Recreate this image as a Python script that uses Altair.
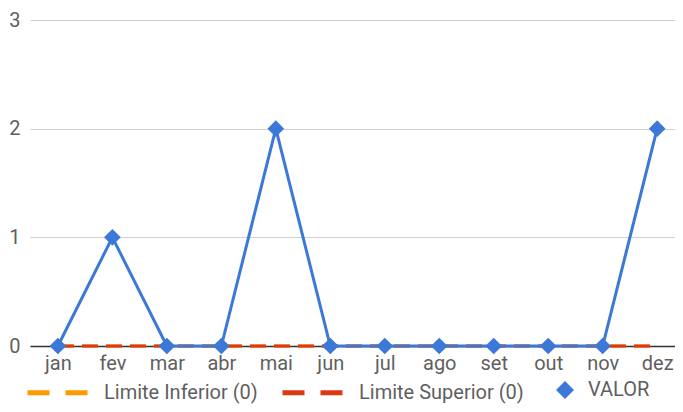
import altair as alt
import pandas as pd

meses = ["jan", "fev", "mar", "abr", "mai", "jun", "jul", "ago", "set", "out", "nov", "dez"]
valor = [0, 1, 0, 0, 2, 0, 0, 0, 0, 0, 0, 2]
limite_inferior = [0, 0, 0, 0, 0, 0, 0, 0, 0, 0, 0, 0]
limite_superior = [0, 0, 0, 0, 0, 0, 0, 0, 0, 0, 0, 0]
series_limites = ["Limite Inferior (0)", "Limite Superior (0)"]
serie_valor = "VALOR"

AZUL = "#3c78d8"
LARANJA = "#ff9900"
VERMELHO = "#dc3912"
CINZA = "#5f5f5f"

lim_rows = []
for s, vals in zip(series_limites, [limite_inferior, limite_superior]):
    for m, v in zip(meses, vals):
        lim_rows.append({"mes": m, "valor": v, "serie": s})
df_lim = pd.DataFrame(lim_rows)
df_val = pd.DataFrame({"mes": meses, "valor": valor, "legenda": [serie_valor] * len(meses)})

x = alt.X("mes:N", sort=meses,
          scale=alt.Scale(type="point", domain=meses, padding=0.42, align=0.61),
          axis=alt.Axis(title=None, labelAngle=0, ticks=False, grid=False,
                        domainColor="#333333", domainWidth=1.5, labelPadding=7,
                        labelFontSize=20, labelColor=CINZA, labelFont="Roboto"))
y = alt.Y("valor:Q", scale=alt.Scale(domain=[0, 3], nice=False, zero=True),
          axis=alt.Axis(title=None, values=[0, 1, 2, 3], ticks=False, domain=False,
                        gridColor="#d0d0d0", labelPadding=10, labelFontSize=20,
                        labelColor=CINZA, labelFont="Roboto", format="d"))

limites = alt.Chart(df_lim).mark_line(strokeWidth=3, strokeDash=[16, 8]).encode(
    x=x, y=y,
    color=alt.Color("serie:N", sort=series_limites,
                    scale=alt.Scale(domain=series_limites, range=[LARANJA, VERMELHO]),
                    legend=alt.Legend(title=None, orient="none", direction="horizontal",
                                      legendX=-5, legendY=340, symbolType="stroke",
                                      symbolSize=3600, symbolStrokeWidth=5,
                                      symbolDash=[22, 16], labelFontSize=20,
                                      labelColor=CINZA, labelFont="Roboto", labelLimit=400,
                                      labelOffset=14, columnPadding=14, padding=0)),
)

linha_valor = alt.Chart(df_val).mark_line(color=AZUL, strokeWidth=3).encode(x=x, y=y)

pontos_valor = alt.Chart(df_val).mark_point(filled=True, size=280, color=AZUL, opacity=1).encode(
    x=x, y=y,
    shape=alt.Shape("legenda:N",
                    scale=alt.Scale(domain=[serie_valor], range=["diamond"]),
                    legend=alt.Legend(title=None, orient="none", legendX=525, legendY=360,
                                      symbolSize=324, symbolFillColor=AZUL,
                                      symbolStrokeColor=AZUL, labelFontSize=20,
                                      labelColor=CINZA, labelFont="Roboto", labelLimit=400,
                                      labelOffset=13, padding=0)),
)

chart = alt.layer(limites, linha_valor, pontos_valor).properties(
    width=645, height=326,
    autosize=alt.AutoSizeParams(type="none"),
    padding={"left": 22, "top": 12, "right": 0, "bottom": 58},
).configure(font="Roboto").configure_view(stroke=None)

chart.save("out.html", embed_options={"renderer": "svg", "actions": False})
